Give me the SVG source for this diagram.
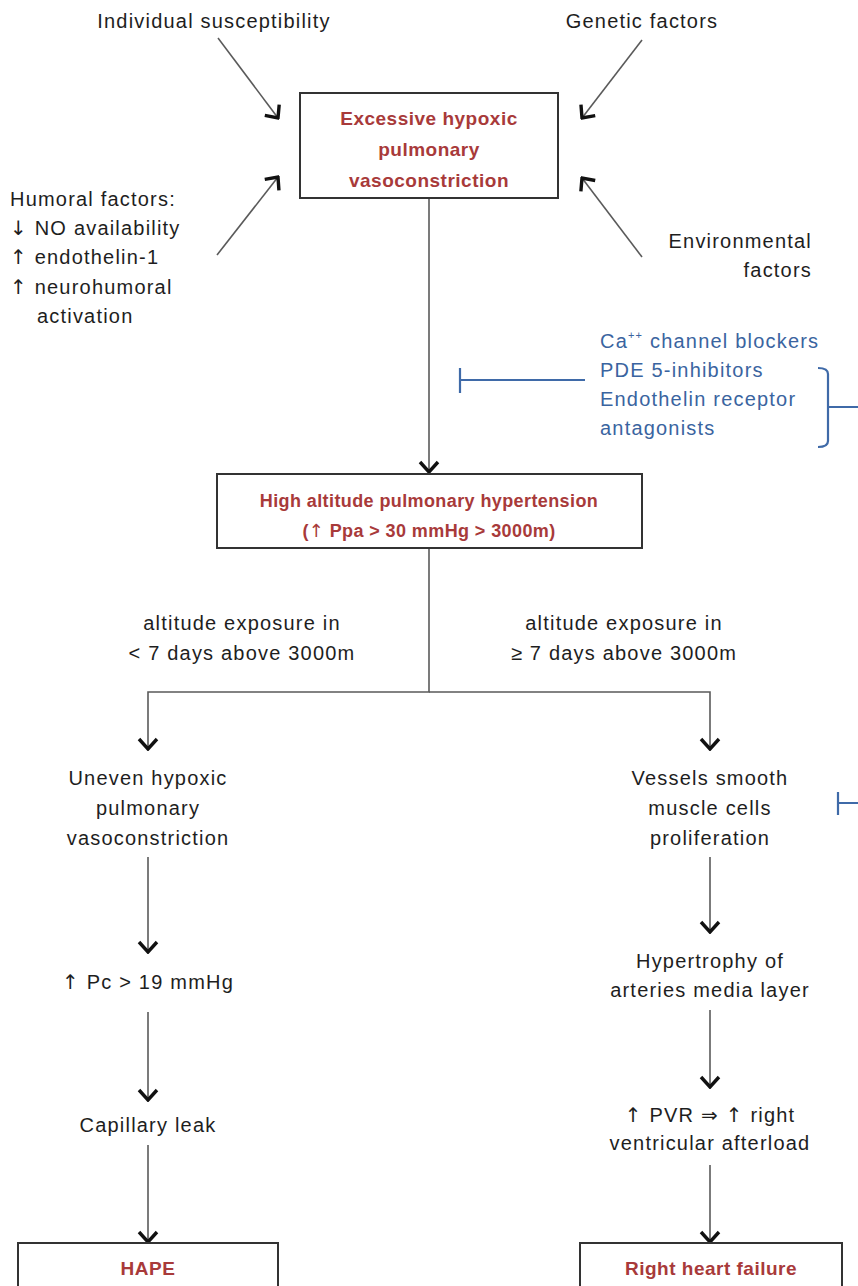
<svg xmlns="http://www.w3.org/2000/svg" width="858" height="1286" viewBox="0 0 858 1286">
<defs>
<style>
.t{font-family:"Liberation Sans","DejaVu Sans",sans-serif;font-size:20px;letter-spacing:1.2px;fill:#1e1e1e}
.m{text-anchor:middle}
.e{text-anchor:end}
.r{font-family:"Liberation Sans","DejaVu Sans",sans-serif;font-weight:bold;fill:#a83a3a;text-anchor:middle}
.b{font-family:"Liberation Sans","DejaVu Sans",sans-serif;font-size:20px;letter-spacing:1.2px;fill:#3a64a0}
.a{font-family:"DejaVu Sans",sans-serif;font-weight:normal}
.box{fill:#fff;stroke:#333;stroke-width:2}
.c{fill:none;stroke:#5a5a5a;stroke-width:1.6;marker-end:url(#arr)}
.inh{fill:none;stroke:#3f6aa8;stroke-width:2.2}
</style>
<marker id="arr" viewBox="-14 -12 16 24" markerWidth="16" markerHeight="24" refX="0" refY="0" orient="auto" markerUnits="userSpaceOnUse">
<path d="M-10,-9 L0,0 L-10,9" fill="none" stroke="#111" stroke-width="3.4"/>
</marker>
</defs>
<rect width="858" height="1286" fill="#fff"/>

<g id="connectors">
<path class="c" d="M218,38 L278,118"/>
<path class="c" d="M642,40 L582,118"/>
<path class="c" d="M217,255 L278,177"/>
<path class="c" d="M642,257 L582,178"/>
<path class="c" d="M429,198 V472"/>
<path class="c" d="M429,548 V692 H148 V749"/>
<path class="c" d="M429,692 H710 V749"/>
<path class="c" d="M148,857 V952"/>
<path class="c" d="M148,1012 V1100"/>
<path class="c" d="M148,1145 V1242"/>
<path class="c" d="M710,857 V932"/>
<path class="c" d="M710,1010 V1087"/>
<path class="c" d="M710,1165 V1242"/>
<path class="inh" d="M460,368 V393 M460,380 H585"/>
<path class="inh" d="M818,368 Q828,368 828,374 V441 Q828,447 818,447 M828,407 H858"/>
<path class="inh" d="M838,792 V815 M838,803 H858"/>
</g>

<g id="individual"><text class="t m" x="214" y="28">Individual susceptibility</text></g>
<g id="genetic"><text class="t m" x="642" y="28">Genetic factors</text></g>
<g id="humoral">
<text class="t" x="10" y="206">Humoral factors:</text>
<text class="t" x="10" y="235"><tspan class="a">↓</tspan> NO availability</text>
<text class="t" x="10" y="264"><tspan class="a">↑</tspan> endothelin-1</text>
<text class="t" x="10" y="294"><tspan class="a">↑</tspan> neurohumoral</text>
<text class="t" x="37" y="323">activation</text>
</g>
<g id="environmental">
<text class="t e" x="812" y="248">Environmental</text>
<text class="t e" x="812" y="277">factors</text>
</g>
<g id="hpv">
<rect class="box" x="300" y="93" width="258" height="105"/>
<text class="r" x="429" y="125" font-size="19" letter-spacing="0.5">Excessive hypoxic</text>
<text class="r" x="429" y="156" font-size="19" letter-spacing="0.5">pulmonary</text>
<text class="r" x="429" y="187" font-size="19" letter-spacing="0.5">vasoconstriction</text>
</g>
<g id="drugs">
<text class="b" x="600" y="348">Ca<tspan font-size="11" dy="-9">++</tspan><tspan dy="9"> channel blockers</tspan></text>
<text class="b" x="600" y="377">PDE 5-inhibitors</text>
<text class="b" x="600" y="406">Endothelin receptor</text>
<text class="b" x="600" y="435">antagonists</text>
</g>
<g id="hapah">
<rect class="box" x="217" y="474" width="425" height="74"/>
<text class="r" x="429" y="507" font-size="18" letter-spacing="0.4">High altitude pulmonary hypertension</text>
<text class="r" x="429" y="537" font-size="18" letter-spacing="0.4">(<tspan class="a">↑</tspan> Ppa &gt; 30 mmHg &gt; 3000m)</text>
</g>
<g id="label-short">
<text class="t m" x="242" y="630">altitude exposure in</text>
<text class="t m" x="242" y="660">&lt; 7 days above 3000m</text>
</g>
<g id="label-long">
<text class="t m" x="624" y="630">altitude exposure in</text>
<text class="t m" x="624" y="660">≥ 7 days above 3000m</text>
</g>
<g id="uneven">
<text class="t m" x="148" y="785">Uneven hypoxic</text>
<text class="t m" x="148" y="815">pulmonary</text>
<text class="t m" x="148" y="845">vasoconstriction</text>
</g>
<g id="pc"><text class="t m" x="148" y="989"><tspan class="a">↑</tspan> Pc &gt; 19 mmHg</text></g>
<g id="leak"><text class="t m" x="148" y="1132">Capillary leak</text></g>
<g id="hape">
<rect class="box" x="18" y="1243" width="260" height="60"/>
<text class="r" x="148" y="1275" font-size="19" letter-spacing="0.5">HAPE</text>
</g>
<g id="vessels">
<text class="t m" x="710" y="785">Vessels smooth</text>
<text class="t m" x="710" y="815">muscle cells</text>
<text class="t m" x="710" y="845">proliferation</text>
</g>
<g id="hypertrophy">
<text class="t m" x="710" y="968">Hypertrophy of</text>
<text class="t m" x="710" y="997">arteries media layer</text>
</g>
<g id="pvr">
<text class="t m" x="710" y="1122"><tspan class="a">↑</tspan> PVR <tspan class="a">⇒</tspan> <tspan class="a">↑</tspan> right</text>
<text class="t m" x="710" y="1150">ventricular afterload</text>
</g>
<g id="rhf">
<rect class="box" x="580" y="1243" width="262" height="60"/>
<text class="r" x="711" y="1275" font-size="19" letter-spacing="0.5">Right heart failure</text>
</g>
</svg>
